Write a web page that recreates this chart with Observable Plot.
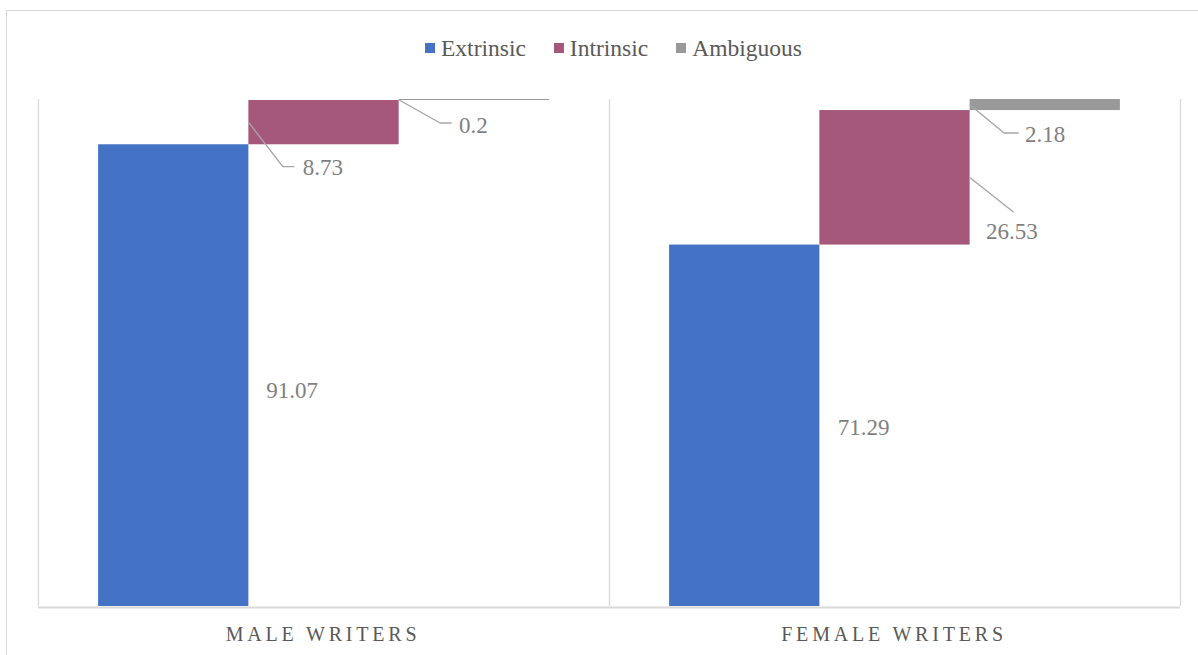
<!DOCTYPE html>
<html>
<head>
<meta charset="utf-8">
<script src="https://cdn.jsdelivr.net/npm/d3@7"></script>
<script src="https://cdn.jsdelivr.net/npm/@observablehq/plot@0.6"></script>
<style>
html, body { margin: 0; padding: 0; background: #fff; overflow: hidden; }
#wrap { position: relative; width: 1198px; height: 655px; }
#chart { position: absolute; left: 0; top: 0; }
#border { position: absolute; left: 6px; top: 10px; width: 1400px; height: 1000px; border: 1.5px solid #d9d9d9; pointer-events: none; }
#legend { position: absolute; top: 34px; left: 425px; height: 28px; display: flex; align-items: center; font-family: "Liberation Serif", "Times New Roman", Times, "DejaVu Serif", serif; font-size: 23.5px; color: #595959; white-space: nowrap; }
.item { display: flex; align-items: center; margin-right: 28px; }
.sw { width: 10px; height: 10px; margin-right: 6px; }
</style>
</head>
<body>
<div id="wrap"><div id="chart"></div><div id="border"></div><div id="legend"></div></div>
<script>
// ---- data ----
const groups = ["MALE WRITERS", "FEMALE WRITERS"];
const categories = ["Extrinsic", "Intrinsic", "Ambiguous"];
const maleValues = [91.07, 8.73, 0.2];
const femaleValues = [71.29, 26.53, 2.18];
const colors = ["#4472c4", "#a5587a", "#999999"];

// ---- layout ----
const W = 1198, H = 655, mL = 37, mR = 18, mT = 99, mB = 49;
const PAD = 0.4;
const SLOT = categories.length + 2 * PAD;
const pxX = (W - mL - mR) / groups.length / SLOT;
const pxY = (H - mT - mB) / 100;
const serif = '"Liberation Serif", "Times New Roman", Times, "DejaVu Serif", serif';

// label placement (pixel offsets from anchor point; y downward)
const labelLayout = {
  "MALE WRITERS|Extrinsic":   {edge: "right", text: [17.5, 15]},
  "MALE WRITERS|Intrinsic":   {edge: "left",  leader: [[0, 0], [34, 44], [45, 44]], text: [54, 45]},
  "MALE WRITERS|Ambiguous":   {edge: "left",  leader: [[0, 0], [41, 23], [52, 23]], text: [60, 25.5]},
  "FEMALE WRITERS|Extrinsic": {edge: "right", text: [18, 2]},
  "FEMALE WRITERS|Intrinsic": {edge: "right", leader: [[0, 0], [43, 34]], text: [16, 54]},
  "FEMALE WRITERS|Ambiguous": {edge: "left",  leader: [[0, 0], [34, 28], [48, 28]], text: [55, 29.5]}
};

// ---- derived rows (waterfall) ----
const series = [maleValues, femaleValues];
const rows = [];
groups.forEach((g, gi) => {
  let acc = 0;
  categories.forEach((c, ci) => {
    const v = series[gi][ci];
    rows.push({group: g, category: c, value: v, x1: ci + PAD, x2: ci + 1 + PAD, y1: acc, y2: acc + v});
    acc += v;
  });
});

const labels = [];
const leaderPts = [];
rows.forEach((r, i) => {
  const L = labelLayout[r.group + "|" + r.category];
  const ax = L.edge === "left" ? r.x1 : r.x2;
  const ay = (r.y1 + r.y2) / 2;
  labels.push({group: r.group, text: String(r.value), x: ax + L.text[0] / pxX, y: ay - L.text[1] / pxY});
  if (L.leader) L.leader.forEach(([dx, dy]) => leaderPts.push({id: i, group: r.group, x: ax + dx / pxX, y: ay - dy / pxY}));
});

// ---- chart ----
const chart = Plot.plot({
  width: W, height: H,
  marginLeft: mL, marginRight: mR, marginTop: mT, marginBottom: mB,
  style: {background: "transparent", fontFamily: serif},
  fx: {domain: groups, padding: 0, axis: null},
  x: {domain: [0, SLOT], axis: null},
  y: {domain: [0, 100], axis: null},
  color: {domain: categories, range: colors},
  marks: [
    Plot.rect(rows, {x1: "x1", x2: "x2", y1: "y1", y2: "y2", fill: "category", fx: "group"}),
    Plot.ruleX([0], {y1: 0, y2: 100, stroke: "#d9d9d9", strokeWidth: 1.3}),
    Plot.ruleX([SLOT], {fx: [groups[groups.length - 1]], y1: 0, y2: 100, stroke: "#d9d9d9", strokeWidth: 1.3}),
    Plot.ruleY([0], {stroke: "#d9d9d9", strokeWidth: 2, dy: 1}),
    Plot.line(leaderPts, {x: "x", y: "y", z: "id", fx: "group", stroke: "#a6a6a6", strokeWidth: 1.4}),
    Plot.text(labels, {x: "x", y: "y", text: "text", fx: "group", textAnchor: "start", fill: "#7f7f7f", fontSize: 23}),
    Plot.text(groups, {fx: d => d, x: () => SLOT / 2, y: () => 0, dy: 28, dx: -1, text: d => d, fill: "#595959", fontSize: 20})
  ]
});
document.getElementById("chart").appendChild(chart);
d3.select(chart).selectAll("text")
  .style("font-family", serif)
  .filter(function () { return groups.includes(this.textContent); })
  .style("letter-spacing", "3.8px");

// ---- legend ----
const legend = document.getElementById("legend");
categories.forEach((c, i) => {
  const it = document.createElement("div");
  it.className = "item";
  const sw = document.createElement("span");
  sw.className = "sw";
  sw.style.background = colors[i];
  const t = document.createElement("span");
  t.textContent = c;
  it.appendChild(sw); it.appendChild(t);
  legend.appendChild(it);
});
</script>
</body>
</html>
